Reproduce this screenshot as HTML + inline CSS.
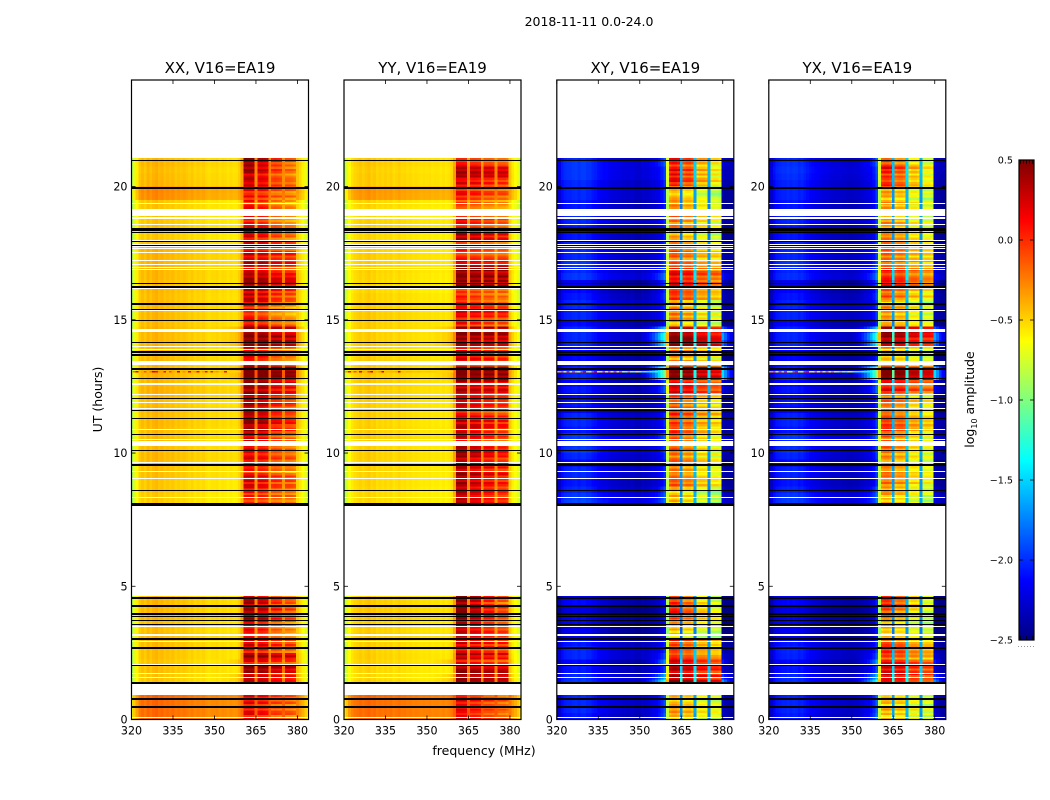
<!DOCTYPE html>
<html>
<head>
<meta charset="utf-8">
<title>2018-11-11 0.0-24.0</title>
<style>
html,body{margin:0;padding:0;background:#fff;width:1050px;height:800px;overflow:hidden}
svg{display:block}
text{font-family:"DejaVu Sans","Liberation Sans",sans-serif;fill:#000}
</style>
</head>
<body>
<svg id="chart" xmlns="http://www.w3.org/2000/svg" width="1050" height="800" viewBox="0 0 1050 800">
<rect x="0" y="0" width="1050" height="800" fill="#fff"/>
<text x="589" y="26" font-size="12.5" text-anchor="middle">2018-11-11 0.0-24.0</text>
<text x="0" y="0" font-size="12.5" text-anchor="middle" transform="translate(102,399.5) rotate(-90)">UT (hours)</text>
<text x="484" y="755" font-size="12.5" text-anchor="middle">frequency (MHz)</text>
<text x="0" y="0" font-size="12.5" text-anchor="middle" transform="translate(974,399.5) rotate(-90)">log<tspan font-size="8" dy="3">10</tspan><tspan dy="-3"> amplitude</tspan></text>
<g id="panels"></g>
<g id="colorbar"></g>
</svg>
<script>
// ---- categories and tick labels ----
const panelTitles = ["XX, V16=EA19", "YY, V16=EA19", "XY, V16=EA19", "YX, V16=EA19"];
const freqTicks = [320, 335, 350, 365, 380];
const hourTicks = [0, 5, 10, 15, 20];
const colorTicks = [0.5, 0, -0.5, -1, -1.5, -2, -2.5];
const colorTickLabels = ["0.5", "0.0", "\u22120.5", "\u22121.0", "\u22121.5", "\u22122.0", "\u22122.5"];

// ---- time rows (UT hours, row start) ----
const rowHours = [0,.25,.5,.75,1,1.25,1.5,1.75,2,2.25,2.5,2.75,3,3.25,3.5,3.75,4,4.25,4.5,
 8,8.25,8.5,8.75,9,9.25,9.5,9.75,10,10.25,10.5,10.75,11,11.25,11.5,11.75,12,12.25,12.5,12.75,
 13,13.25,13.5,13.75,14,14.25,14.5,14.75,15,15.25,15.5,15.75,16,16.25,16.5,16.75,17,17.25,17.5,17.75,
 18,18.25,18.5,18.75,19,19.25,19.5,19.75,20,20.25,20.5,20.75,21];
const rowDuration = 0.25;

// ---- frequency channels (MHz) ----
const channels = [320,321,322,323,324,325,326,327,328,329,330,331,332,333,334,335,336,337,338,339,
 340,341,342,343,344,345,346,347,348,349,350,351,352,353,354,355,356,357,358,359,
 360,361,362,363,364,365,366,367,368,369,370,371,372,373,374,375,376,377,378,379,380,381,382,383,384];

// ---- how strongly each channel follows the resonance-band level of a row ----
const bandWeight = [0,0,0,0,0,0,0,0,0,0,0,0,0,0,0,0,0,0,0,0,0,0,0,0,0,0,0,0,0,0,0,0,0,0,0,0,0,0,0,0,
 .2,1,1,1,1,.3,1,1,1,1,.3,1,1,1,1,.3,1,1,1,1,.1,.1,.1,.1,.1];
const edgeWeight = [0,0,0,0,0,0,0,0,0,0,0,0,0,0,0,0,0,0,0,0,0,0,0,0,0,0,0,0,0,0,0,.05,.1,.2,.3,.4,.55,.7,.85,1,
 .3,0,0,0,0,.3,0,0,0,0,0,0,0,0,0,0,0,0,0,0,.8,.6,.35,.2,.1];
const tiltWeight = [0,0,0,0,0,0,0,0,0,0,0,0,0,0,0,0,0,0,0,0,0,0,0,0,0,0,0,0,0,0,0,0,0,0,0,0,0,0,0,0,
 0,1,1,1,1,0,.4,.4,.4,.4,0,-.4,-.4,-.4,-.4,0,-1,-1,-1,-1,0,0,0,0,0];
// fine horizontal streak amplitude inside the band, applied to three sub-rows per row
const bandRipple = [.14,-.12,.02,.1,-.16,.06,-.04];

// ---- mean log10 amplitude spectrum of each polarisation ----
const xxSpectrum = [-.85,-.72,-.6,-.48,-.44,-.48,-.42,-.46,-.42,-.4,-.44,-.42,-.46,-.44,-.46,-.44,-.48,-.46,-.48,-.46,
 -.48,-.5,-.48,-.52,-.5,-.52,-.5,-.53,-.55,-.53,-.53,-.52,-.55,-.53,-.54,-.56,-.54,-.56,-.55,-.5,
 -.4,0,.02,.02,0,-.34,-.04,-.02,-.04,-.07,-.34,-.18,-.16,-.18,-.2,-.34,-.2,-.2,-.22,-.26,-.48,-.55,-.62,-.72,-.85];
const yySpectrum = [-.9,-.76,-.63,-.56,-.52,-.5,-.48,-.51,-.48,-.46,-.5,-.48,-.52,-.5,-.52,-.5,-.52,-.5,-.54,-.52,
 -.5,-.53,-.52,-.54,-.53,-.55,-.54,-.55,-.56,-.55,-.56,-.55,-.57,-.56,-.56,-.58,-.56,-.58,-.56,-.52,
 -.4,.02,.02,.02,0,-.36,-.05,-.04,-.05,-.07,-.36,-.1,-.1,-.1,-.12,-.36,-.12,-.12,-.12,-.16,-.5,-.6,-.66,-.74,-.85];
const xySpectrum = [-2.45,-2.3,-2.15,-2.1,-2.08,-2.08,-2.06,-2.05,-2.08,-2.05,-2.05,-2.08,-2.08,-2.12,-2.14,-2.18,-2.2,-2.22,-2.22,-2.25,
 -2.28,-2.28,-2.3,-2.3,-2.32,-2.32,-2.34,-2.32,-2.34,-2.36,-2.36,-2.32,-2.34,-2.32,-2.3,-2.28,-2.26,-2.22,-2.15,-2.05,
 -.85,-.4,-.35,-.35,-.4,-1.75,-.5,-.45,-.45,-.5,-1.65,-.65,-.62,-.62,-.65,-1.75,-.72,-.7,-.7,-.75,-2.4,-2.45,-2.45,-2.45,-2.45];
const yxSpectrum = [-2.45,-2.32,-2.18,-2.12,-2.1,-2.08,-2.08,-2.06,-2.08,-2.06,-2.07,-2.1,-2.08,-2.12,-2.15,-2.18,-2.2,-2.22,-2.24,-2.25,
 -2.28,-2.28,-2.3,-2.31,-2.32,-2.32,-2.32,-2.34,-2.34,-2.35,-2.35,-2.34,-2.34,-2.32,-2.3,-2.28,-2.26,-2.22,-2.15,-2,
 -.85,-.42,-.38,-.38,-.42,-1.7,-.5,-.46,-.46,-.5,-1.6,-.66,-.62,-.62,-.66,-1.7,-.72,-.7,-.7,-.75,-2.4,-2.42,-2.45,-2.45,-2.45];

// ---- per-row offset of the continuum below 360 MHz ----
const xxContinuum = [.25,.25,.25,.27,0,-.02,-.02,0,-.02,0,0,.01,.02,0,0,.02,.02,.02,0,
 -.04,-.04,-.02,-.02,0,0,.01,.02,.01,0,0,.01,.02,.01,.02,0,.02,.04,.02,.03,
 .03,.02,.01,0,.03,.02,.03,.01,.02,.01,.02,.01,.02,0,.02,.02,.03,.03,.03,0,
 -.03,-.02,-.02,-.02,-.02,-.02,.15,.16,.03,.02,.01,.03,.01];
const yyContinuum = [.3,.3,.3,.32,0,0,-.02,-.01,0,.01,0,.01,.03,.01,0,.02,.03,.02,0,
 -.02,-.02,-.02,-.01,-.01,0,0,.01,0,0,.01,.01,0,.01,0,0,.01,.02,.03,.02,
 .03,.02,0,0,.02,.01,.02,.01,.02,.01,0,0,-.02,-.02,-.01,0,.01,.01,0,0,
 -.02,-.02,0,-.02,-.02,-.01,.17,.18,.02,.02,.01,.03,.02];
const xyContinuum = [0,.05,.05,.05,0,.1,.05,0,-.05,.05,.05,0,-.1,-.1,-.05,-.05,-.15,-.05,-.1,
 .15,.1,.05,0,.05,.05,-.05,.05,.1,.05,.1,0,.05,.05,-.05,0,-.05,0,-.05,.05,
 .05,-.05,-.05,-.05,.05,.05,.05,-.05,.05,.05,.05,0,-.05,-.1,.1,.05,.1,.05,.05,.05,
 0,-.05,.05,.05,0,0,.05,.05,.05,.1,.1,.1,.05];
const yxContinuum = [.02,.05,.05,.04,0,.08,.05,0,-.04,.04,.05,0,-.1,-.08,-.05,-.05,-.12,-.05,-.08,
 .12,.1,.05,0,.04,.05,-.04,.05,.08,.05,.1,0,.05,.04,-.05,0,-.05,0,-.04,.05,
 .05,-.04,-.05,-.05,.05,.05,.04,-.05,.05,.05,.04,0,-.05,-.1,.08,.05,.1,.05,.05,.05,
 0,-.05,.05,.04,0,0,.05,.05,.05,.08,.1,.08,.05];

// ---- per-row level of the 360-380 MHz band ----
const xxBand = [.05,.1,.05,.1,0,.45,.3,.45,.15,.4,.1,.15,0,.05,.1,.3,.25,.2,.1,
 0,.05,.05,.15,.1,-.05,-.05,.12,.15,.05,.15,.25,.35,.2,.2,.35,.3,.4,.4,.6,
 .6,.1,.05,.1,.5,.5,.5,0,-.05,-.05,.1,.2,.2,.4,.3,.15,.35,.2,.2,.1,
 .1,.1,0,0,-.05,-.05,0,.05,.1,.1,.25,.25,.25];
const yyBand = [.05,.08,.05,.1,0,.4,.35,.4,.1,.3,.1,.15,.1,.1,.15,.3,.3,.2,.15,
 .15,.15,.2,.3,.3,.25,.25,.25,.25,.1,.2,.2,.25,.1,.1,.1,.15,.35,.35,.6,
 .6,.1,.1,.1,.45,.45,.45,0,.1,.1,0,0,0,.5,.5,.5,.2,0,0,0,
 .3,.1,0,0,-.1,-.1,0,.05,.1,.3,.3,0,0];
const xyBand = [-.05,0,-.05,-.05,0,.8,.7,.7,.6,.35,.3,.3,-.1,-.1,-.05,.1,.2,.2,.2,
 -.1,-.1,-.1,.15,.15,.1,.1,.1,.15,.15,.1,.25,.3,.3,.2,.2,.2,.55,.55,.95,
 .95,.1,0,.1,.85,.85,.85,-.05,.1,.1,-.1,.25,.25,.55,.5,.5,.2,.2,.2,.1,
 0,0,.1,.1,0,0,-.1,-.1,.3,.3,.3,.25,.25];
const yxBand = [-.05,0,-.05,-.05,0,.7,.6,.6,.5,.3,.3,.25,-.05,-.05,0,.1,.15,.15,.2,
 -.05,-.05,0,.1,.1,.05,.05,.1,.1,.1,.1,.25,.25,.25,.2,.15,.15,.5,.5,.9,
 .9,.1,0,.1,.8,.8,.8,0,.05,.05,-.1,.2,.2,.45,.4,.45,.25,.2,.15,.1,
 .05,0,.1,.05,0,0,-.05,-.05,.25,.25,.3,.2,.2];

// ---- per-row difference between the low and high sub-bands ----
const xxTilt = [.05,.05,.05,.05,0,0,0,0,0,0,.05,.05,.1,.1,.15,.15,.15,.15,.15,
 0,0,.05,.05,.05,.05,.05,.05,.1,.1,.1,.1,.1,.1,.1,.1,.1,.05,.05,0,
 0,.1,.1,.1,0,0,0,.05,.1,.1,.1,.1,.05,0,0,.05,0,0,.05,.05,
 .1,.15,.1,.1,.1,.1,.05,.05,.1,.15,.2,.2,.2];
const yyTilt = [.1,.1,.1,.1,0,0,0,0,.05,.05,.05,.05,.1,.1,.2,.25,.25,.25,.25,
 .1,.1,.1,.1,.1,.1,.1,.1,.1,.1,.1,.1,.05,.05,.05,.05,.05,0,0,0,
 0,0,.05,.05,0,0,0,.05,0,0,.05,.05,0,0,0,0,0,0,.05,.05,
 .05,.05,.05,.05,.05,.05,.05,.05,.05,0,0,.05,.05];
const xyTilt = [0,0,0,0,0,0,0,0,0,0,.05,.05,0,0,.05,.1,.2,.2,.2,
 .05,.05,.05,.05,.05,.05,.05,.05,.1,.1,.1,.1,.05,.05,.05,.05,.05,0,0,0,
 0,0,0,0,0,0,0,0,.05,.05,.05,.05,.05,.05,0,0,0,0,.05,.05,
 .05,.05,.05,.05,.05,.05,.05,.05,.15,.2,.2,.15,.15];
const yxTilt = [0,0,0,0,0,0,0,0,0,0,.05,.05,0,0,.05,.1,.15,.2,.2,
 .05,.05,.05,.05,.05,.05,.05,.05,.1,.1,.1,.1,.05,.05,.05,.05,.05,0,0,0,
 0,0,0,0,0,0,0,0,.05,.05,.05,.05,.05,.05,0,0,0,0,.05,.05,
 .05,.05,.05,.05,.05,.05,.05,.05,.15,.15,.2,.15,.15];

// ---- per-row bleed of the band edge into neighbouring channels ----
const parallelEdge = [0,0,0,0,0,.1,.1,0,.1,0,0,0,0,0,0,0,0,0,0,
 0,0,0,0,0,0,0,0,0,0,0,0,0,0,0,0,0,0,0,.1,
 .1,0,0,0,.1,.1,.1,0,0,0,0,0,0,0,0,0,0,0,0,0,
 0,0,0,0,0,0,0,0,0,0,0,0,0];
const xyEdge = [.2,.1,.1,.1,0,.7,.4,.1,.4,.1,0,0,0,0,0,0,0,0,0,
 .1,.1,.1,0,0,0,0,0,0,0,.1,0,0,0,0,0,0,.2,.2,1,
 1,.1,0,0,.6,.8,.5,0,0,0,0,.1,.1,.2,.2,.1,0,0,0,0,
 0,0,0,0,0,0,0,0,0,0,0,.1,.1];
const yxEdge = [.2,.1,.1,.1,0,.7,.4,.1,.4,.1,0,0,0,0,0,0,0,0,0,
 .1,.1,.1,0,0,0,0,0,0,0,.1,0,0,0,0,0,0,.2,.2,1,
 1,.1,0,0,.6,.8,.5,0,0,0,0,.1,.1,.2,.2,.1,0,0,0,0,
 0,0,0,0,0,0,0,0,0,0,0,.1,.1];

// ---- narrow interference row at 13.04 UT, channels 320-359 ----
const streakHour = 13.02;
const streakDuration = 0.05;
const xxStreak = [-.45,-.2,.2,-.4,-.35,-.1,-.4,-.2,.25,.1,-.3,-.35,.1,-.4,-.1,-.35,-.4,.2,-.4,-.3,-.4,.15,-.35,-.3,.1,-.4,-.3,.1,-.4,.05,-.35,-.3,-.42,-.4,.1,-.5,-.5,-.5,-.5,-.5];
const yyStreak = [-.45,-.3,.1,-.4,-.1,-.38,.2,-.35,-.4,-.1,.25,-.4,-.4,-.3,.2,-.42,-.4,-.4,-.4,-.35,.2,-.42,-.45,-.4,-.42,-.45,-.45,-.42,-.45,-.48,-.45,-.45,-.48,-.48,-.5,-.5,-.5,-.5,-.5,-.5];
const xyStreak = [-.6,-.4,-.2,-.6,0,-.6,-.1,-.5,-.65,-.1,.2,-.5,-.6,-.1,.2,-.6,-.55,-.1,-.7,-.2,-.6,-.1,-.6,-.2,-.75,-.9,-.3,-.85,-1,-.6,-.9,-1.2,-1.1,-1.3,-1.2,-1.3,-1.2,-1.4,-1.1,-1];
const yxStreak = [-.6,-.3,-.1,-.6,-.1,-.5,0,-.6,-.6,-.1,.1,-.55,-.6,0,.1,-.6,-.6,-.2,-.7,-.2,-.7,-.2,-.6,-.3,-.7,-.9,-.4,-.9,-1.1,-.7,-.9,-1.2,-1.2,-1.3,-1.2,-1.3,-1.3,-1.4,-1.1,-1];

// ---- flagged time intervals in UT hours [start, end] ----
const noDataHours = [[.92,1.37],[4.65,8.03],[21.07,24]];
const whiteFlagHours = [[.05,.1],[1.57,1.61],[1.71,1.75],[2.06,2.1],[2.9,2.94],[3.15,3.19],[3.46,3.5],
 [8.08,8.12],[8.3,8.35],[9.03,9.07],[9.28,9.32],[9.64,9.68],[10.26,10.46],[10.48,10.52],[10.88,10.92],[11.64,11.68],[11.86,11.9],
 [12.17,12.22],[12.57,12.61],[13.3,13.44],[13.87,13.91],[13.97,14.01],[14.55,14.64],[15.32,15.36],[16.17,16.21],
 [16.88,16.92],[16.96,17],[17.07,17.11],[17.22,17.26],[17.52,17.56],[17.64,17.68],[17.73,17.85],[17.97,18.01],
 [18.55,18.59],[18.8,18.84],[18.9,19.16],[19.34,19.38]];
const blackFlagHours = [[.45,.49],[.75,.79],[1.35,1.39],[1.99,2.03],[2.64,2.72],[3,3.04],[3.56,3.6],[3.68,3.72],[3.86,3.9],[3.94,3.98],[4.24,4.28],[4.54,4.58],
 [8.03,8.07],[8.1,8.14],[8.59,8.63],[9.53,9.57],[10.09,10.13],[10.69,10.73],[11.26,11.3],[11.59,11.63],[12.04,12.08],[12.79,12.83],
 [13.11,13.19],[13.66,13.7],[13.75,13.83],[14.12,14.16],[14.97,15.01],[15.35,15.39],[15.55,15.63],[16.19,16.27],[16.36,16.4],
 [17.78,17.82],[17.93,17.97],[18.24,18.28],[18.35,18.39],[18.42,18.46],[19.9,19.94],[19.96,20],[20.97,21.01]];

// ---- panel wiring ----
const panelSpectra = [xxSpectrum, yySpectrum, xySpectrum, yxSpectrum];
const panelContinuum = [xxContinuum, yyContinuum, xyContinuum, yxContinuum];
const panelBand = [xxBand, yyBand, xyBand, yxBand];
const panelTilt = [xxTilt, yyTilt, xyTilt, yxTilt];
const panelEdge = [parallelEdge, parallelEdge, xyEdge, yxEdge];
const panelStreak = [xxStreak, yyStreak, xyStreak, yxStreak];
const panelSlug = ["xx", "yy", "xy", "yx"];

// ---- layout ----
const SVGNS = "http://www.w3.org/2000/svg";
const panelLeft = [131.5, 344, 556.8, 768.8];
const panelWidth = 177;
const axisTop = 80;
const axisBottom = 719.5;
const freqMin = 320, freqMax = 384, hourMin = 0, hourMax = 24;
const colorMin = -2.5, colorMax = 0.5;
const barLeft = 1019, barWidth = 15, barTop = 160, barBottom = 640;

function xScale(panel, mhz) { return panelLeft[panel] + (mhz - freqMin) / (freqMax - freqMin) * panelWidth; }
function yScale(hour) { return axisBottom - (hour - hourMin) / (hourMax - hourMin) * (axisBottom - axisTop); }
function barScale(v) { return barBottom - (v - colorMin) / (colorMax - colorMin) * (barBottom - barTop); }
function clamp01(v) { return Math.max(0, Math.min(1, v)); }
function jet(v) {
  const t = clamp01((v - colorMin) / (colorMax - colorMin));
  const r = clamp01(Math.min(4 * t - 1.5, -4 * t + 4.5));
  const g = clamp01(Math.min(4 * t - 0.5, -4 * t + 3.5));
  const b = clamp01(Math.min(4 * t + 0.5, -4 * t + 2.5));
  return "rgb(" + Math.round(r * 255) + "," + Math.round(g * 255) + "," + Math.round(b * 255) + ")";
}
function makeRect(parent, x, y, w, h, fill) {
  const el = document.createElementNS(SVGNS, "rect");
  el.setAttribute("x", x.toFixed(2));
  el.setAttribute("y", y.toFixed(2));
  el.setAttribute("width", w.toFixed(2));
  el.setAttribute("height", h.toFixed(2));
  el.setAttribute("fill", fill);
  parent.appendChild(el);
  return el;
}
function makeFlag(parent, p, interval, fill) {
  const y0 = Math.round(yScale(interval[1]));
  const y1 = Math.round(yScale(interval[0]));
  return makeRect(parent, panelLeft[p], y0, panelWidth, Math.max(1, y1 - y0), fill);
}
function makeLine(parent, x1, y1, x2, y2, width) {
  const el = document.createElementNS(SVGNS, "line");
  el.setAttribute("x1", x1);
  el.setAttribute("y1", y1);
  el.setAttribute("x2", x2);
  el.setAttribute("y2", y2);
  el.setAttribute("stroke", "#000");
  el.setAttribute("stroke-width", width);
  parent.appendChild(el);
  return el;
}
function makeText(parent, x, y, size, anchor, content) {
  const el = document.createElementNS(SVGNS, "text");
  el.setAttribute("x", x);
  el.setAttribute("y", y);
  el.setAttribute("font-size", size);
  el.setAttribute("text-anchor", anchor);
  el.textContent = content;
  parent.appendChild(el);
  return el;
}

const panelsGroup = document.getElementById("panels");

panelTitles.forEach(function (title, p) {
  const g = document.createElementNS(SVGNS, "g");
  
  
  panelsGroup.appendChild(g);

  const clip = document.createElementNS(SVGNS, "clipPath");
  clip.setAttribute("id", "clip-" + panelSlug[p]);
  makeRect(clip, panelLeft[p], axisTop, panelWidth, axisBottom - axisTop, "#000");
  g.appendChild(clip);

  const heat = document.createElementNS(SVGNS, "g");
  
  
  heat.setAttribute("clip-path", "url(#clip-" + panelSlug[p] + ")");
  heat.setAttribute("shape-rendering", "crispEdges");
  g.appendChild(heat);

  const spectrum = panelSpectra[p];
  const continuum = panelContinuum[p];
  const band = panelBand[p];
  const tilt = panelTilt[p];
  const edge = panelEdge[p];
  const streak = panelStreak[p];

  // heatmap cells
  rowHours.forEach(function (hour, i) {
    channels.forEach(function (mhz, k) {
      const w = bandWeight[k];
      const value = spectrum[k] + (1 - w) * continuum[i] + w * band[i] + tiltWeight[k] * tilt[i] + edgeWeight[k] * edge[i];
      const x0 = xScale(p, mhz - 0.5);
      const x1 = xScale(p, mhz + 0.5);
      const yTop = yScale(hour + rowDuration);
      const yBot = yScale(hour);
      const subRows = w === 1 ? 3 : 1;
      for (let s = 0; s < subRows; s++) {
        const ripple = w === 1 ? bandRipple[(i * 3 + s + p) % bandRipple.length] : 0;
        const h = (yBot - yTop) / subRows;
        const cell = makeRect(heat, x0, yTop + s * h, x1 - x0, h, jet(value + ripple));
        
        
      }
    });
  });

  // interference streak
  streak.forEach(function (value, k) {
    const x0 = xScale(p, channels[k] - 0.5);
    const x1 = xScale(p, channels[k] + 0.5);
    const yTop = yScale(streakHour + streakDuration);
    const yBot = yScale(streakHour);
    const cell = makeRect(heat, x0, yTop, x1 - x0, yBot - yTop, jet(value));
    
    
  });

  // flagged intervals
  noDataHours.forEach(function (iv) {
    const el = makeFlag(heat, p, iv, "#fff");
    
    
  });
  whiteFlagHours.forEach(function (iv) {
    const el = makeFlag(heat, p, iv, "#fff");
    
    
  });
  blackFlagHours.forEach(function (iv) {
    const el = makeFlag(heat, p, iv, "#000");
    
    
  });

  // frame
  const frame = document.createElementNS(SVGNS, "rect");
  frame.setAttribute("x", panelLeft[p]);
  frame.setAttribute("y", axisTop);
  frame.setAttribute("width", panelWidth);
  frame.setAttribute("height", axisBottom - axisTop);
  frame.setAttribute("fill", "none");
  frame.setAttribute("stroke", "#000");
  frame.setAttribute("stroke-width", "1.2");
  
  
  g.appendChild(frame);

  // x ticks
  freqTicks.forEach(function (f) {
    const x = xScale(p, f);
    const t1 = makeLine(g, x, axisBottom, x, axisBottom - 4, 0.8);
    
    
    const t2 = makeLine(g, x, axisTop, x, axisTop + 4, 0.8);
    
    
    const lab = makeText(g, x, axisBottom + 15, 11.1, "middle", String(f));
    
    
  });

  // y ticks
  hourTicks.forEach(function (h) {
    const y = yScale(h);
    const t1 = makeLine(g, panelLeft[p], y, panelLeft[p] + 4, y, 0.8);
    
    
    const t2 = makeLine(g, panelLeft[p] + panelWidth, y, panelLeft[p] + panelWidth - 4, y, 0.8);
    
    
    const lab = makeText(g, panelLeft[p] - 4, y + 4, 11.1, "end", String(h));
    
    
  });

  const titleEl = makeText(g, panelLeft[p] + panelWidth / 2, 73, 15, "middle", title);
  
  
});

// ---- colorbar ----
const cb = document.getElementById("colorbar");
const colorbarSteps = 240;
const barRamp = document.createElementNS(SVGNS, "g");
barRamp.setAttribute("shape-rendering", "crispEdges");


cb.appendChild(barRamp);
for (let s = 0; s < colorbarSteps; s++) {
  const vLow = colorMin + (colorMax - colorMin) * s / colorbarSteps;
  const vHigh = colorMin + (colorMax - colorMin) * (s + 1) / colorbarSteps;
  makeRect(barRamp, barLeft, barScale(vHigh), barWidth, barScale(vLow) - barScale(vHigh) + 0.5, jet((vLow + vHigh) / 2));
}
const barFrame = document.createElementNS(SVGNS, "rect");
barFrame.setAttribute("x", barLeft);
barFrame.setAttribute("y", barTop);
barFrame.setAttribute("width", barWidth);
barFrame.setAttribute("height", barBottom - barTop);
barFrame.setAttribute("fill", "none");
barFrame.setAttribute("stroke", "#000");
barFrame.setAttribute("stroke-width", "1.2");


cb.appendChild(barFrame);

colorTicks.forEach(function (v, i) {
  const y = barScale(v);
  const left = makeLine(cb, barLeft, y, barLeft + 4, y, 0.8);
  
  
  const right = makeLine(cb, barLeft + barWidth, y, barLeft + barWidth - 4, y, 0.8);
  
  
  const lab = makeText(cb, barLeft - 6, y + 3.5, 9.6, "end", colorTickLabels[i]);
  
  
});

[0.1, 0.3, 0.5, 0.7, 0.9].forEach(function (frac) {
  const x = barLeft + barWidth * frac;
  const top = makeLine(cb, x, barTop, x, barTop + 4, 0.7);
  
  
  const bot = makeLine(cb, x, barBottom, x, barBottom - 4, 0.7);
  
  
});

const dots = makeLine(cb, 1018, 646.5, 1035, 646.5, 1);
dots.setAttribute("stroke", "#999");
dots.setAttribute("stroke-dasharray", "1 2");


</script>
</body>
</html>
